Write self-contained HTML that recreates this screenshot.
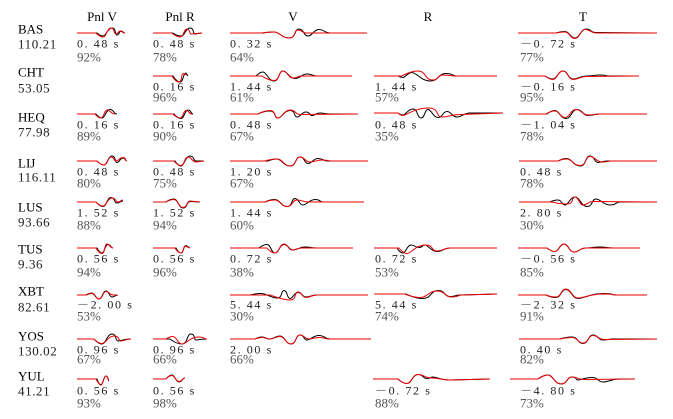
<!DOCTYPE html>
<html><head><meta charset="utf-8"><style>
html,body{margin:0;padding:0;background:#fff;}
svg{display:block;}
text{font-family:"Liberation Serif","Noto Serif CJK SC",serif;}
.h{font-size:13px;fill:#000;text-anchor:middle;}
.n{font-size:13px;fill:#000;}
.v{font-size:13px;fill:#222;letter-spacing:0.6px;}
.t{font-size:12px;fill:#222;letter-spacing:1.6px;}
.p{font-size:13px;fill:#555;letter-spacing:0px;}
path{fill:none;stroke-width:1;stroke-linejoin:round;}
.b{stroke:#000;}
.r{stroke:#ee0000;}
</style></head><body>
<svg width="673" height="419" viewBox="0 0 673 419" xmlns="http://www.w3.org/2000/svg">
<rect width="673" height="419" fill="#fff"/>
<text class="h" x="102" y="21">Pnl V</text>
<text class="h" x="180" y="21">Pnl R</text>
<text class="h" x="293" y="21">V</text>
<text class="h" x="428" y="21">R</text>
<text class="h" x="583" y="21">T</text>
<text class="n" x="18" y="33.5">BAS</text><text class="v" x="18" y="48.5">110.21</text>
<text class="n" x="18" y="76.5">CHT</text><text class="v" x="18" y="92.5">53.05</text>
<text class="n" x="18" y="121.5">HEQ</text><text class="v" x="18" y="136.5">77.98</text>
<text class="n" x="18" y="167.5">LIJ</text><text class="v" x="18" y="181.5">116.11</text>
<text class="n" x="18" y="211.5">LUS</text><text class="v" x="18" y="226.5">93.66</text>
<text class="n" x="18" y="253.5">TUS</text><text class="v" x="18" y="268.5">9.36</text>
<text class="n" x="18" y="295.5">XBT</text><text class="v" x="18" y="311.5">82.61</text>
<text class="n" x="18" y="340.5">YOS</text><text class="v" x="18" y="355.5">130.02</text>
<text class="n" x="18" y="380.5">YUL</text><text class="v" x="18" y="395.5">41.21</text>

<!-- BAS -->
<path class="b" d="M77 33 L97 33 S100 36 103 36 S107.5 28 112 28 S114.5 35 117 35 S119 31 121 31 S123 33 125 33"/>
<path class="r" d="M77 33 L96 33 S99.5 37 103 37 S107 28 111 28 S113.5 34 116 34 S118 31 120 31 S122.5 33 125 33"/>
<path class="b" d="M153 33 L173 33 S177 36 181 36 S185.5 28 190 28 S192.5 34 195 34 L202 33"/>
<path class="r" d="M153 33 L172 33 S176 37 180 37 S183.5 29 187 29 S189 34 191 34 L202 33"/>
<path class="b" d="M230 33 L262 33 S268 32 274 32 S281.5 38 289 38 S294 29 299 29 S303.5 36 308 36 S313.5 29.5 319 29.5 S324.5 33 330 33 L367 33"/>
<path class="r" d="M230 33 L262 33 S268 32 274 32 S281.5 38 289 38 S293.5 30 298 30 S302 33 306 33 L367 33"/>
<path class="b" d="M518 33 L556 33 S560.5 31.5 565 31.5 S570 38 575 38 S580.5 29 586 29 S590.5 32.5 595 32.5 L657 33"/>
<path class="r" d="M518 33 L556 33 S560.5 32 565 32 S570 38.5 575 38.5 S580 29.5 585 29.5 S591 33 597 33 L657 33"/>
<text class="t" x="77" y="47.5">0. 48 s</text><text class="p" x="77" y="61.5">92%</text>
<text class="t" x="153" y="47.5">0. 48 s</text><text class="p" x="153" y="61.5">78%</text>
<text class="t" x="230" y="47.5">0. 32 s</text><text class="p" x="230" y="61.5">64%</text>
<text class="t" x="520" y="47.5">－0. 72 s</text><text class="p" x="520" y="61.5">77%</text>

<!-- CHT -->
<path class="b" d="M153 76 L173 76 S176.5 82 180 82 S183 73 186 73 L188 76"/>
<path class="r" d="M153 76 L172 76 S175.5 82 179 82 S181 73.5 183 73.5 L187 75"/>
<path class="b" d="M230 76 L256 76 S259.5 72 263 72 S268.5 81 274 81 S278.5 71 283 71 S289 78.5 295 78.5 S301 74 307 74 S312 76 317 76 L352 76"/>
<path class="r" d="M230 76 L262 76 S268 80.5 274 80.5 S278.5 71 283 71 S288 78 293 78 S297 76 301 76 L352 76"/>
<path class="b" d="M374 76 L398 76 S400.5 77.5 403 77.5 S407.5 72.5 412 72.5 S421 81 430 81 S438 73.5 446 73.5 S451.5 76 457 76 L497 76"/>
<path class="r" d="M374 76 L402 76 S410 71 418 71 S425 80 432 80 S437.5 75 443 75 S450 76 457 76 L497 76"/>
<path class="b" d="M518 76 L545 76 S549 79 553 79 S558 71 563 71 S568 79 573 79 S580 76 587 76 S593.5 75 600 75 S605 76 610 76 L639 76"/>
<path class="r" d="M518 76 L545 76 S549 79.5 553 79.5 S558 71 563 71 S568 79.5 573 79.5 S580 76.5 587 76.5 L639 76"/>
<text class="t" x="153" y="90.5">0. 16 s</text><text class="p" x="153" y="101.5">96%</text>
<text class="t" x="230" y="90.5">1. 44 s</text><text class="p" x="230" y="101.5">61%</text>
<text class="t" x="375" y="90.5">1. 44 s</text><text class="p" x="375" y="101.5">57%</text>
<text class="t" x="520" y="90.5">－0. 16 s</text><text class="p" x="520" y="101.5">95%</text>

<!-- HEQ -->
<path class="b" d="M77 114 L96 114 S99 118 102 118 S106 109.5 110 109.5 S113.5 114 117 114"/>
<path class="r" d="M77 114 L95 114 S98 118 101 118 S104 110 107 110 S111 114 115 114"/>
<path class="b" d="M153 114 L174 114 S177.5 118.5 181 118.5 S184.5 110 188 110 S190.5 114 193 114"/>
<path class="r" d="M153 114 L173 114 S176.5 118 180 118 S183 110.5 186 110.5 S189 114 192 114"/>
<path class="b" d="M230 114 L258 114 S264 111 270 111 S274 118 278 118 S284 110.5 290 110.5 S293.5 117 297 117 S301.5 112 306 112 S309 115.5 312 115.5 S316 113 320 113 S325 114 330 114 L358 114"/>
<path class="r" d="M230 114 L258 114 S264 110.5 270 110.5 S274 118 278 118 S284 110 290 110 S295 114.5 300 114.5 L358 114"/>
<path class="b" d="M374 113 L398 113 S400.5 115 403 115 S408 109 413 109 S417 118 421 118 S424.5 109.5 428 109.5 S433 117.5 438 117.5 S442.5 111.5 447 111.5 S452 117 457 117 S463.5 113 470 113 L503 113"/>
<path class="r" d="M374 113 L398 113 S400.5 115.5 403 115.5 S415.5 108 428 108 S435 117 442 117 S451 114.5 460 114.5 L503 113"/>
<path class="b" d="M518 114 L547 114 S551 110.5 555 110.5 S560.5 118.5 566 118.5 S571.5 109.5 577 109.5 S582.5 115.5 588 115.5 S594 114 600 114 L647 114"/>
<path class="r" d="M518 114 L546 114 S550.5 111 555 111 S560 117.5 565 117.5 S570.5 109.5 576 109.5 S582 115 588 115 S594 114 600 114 L647 114"/>
<text class="t" x="77" y="128.5">0. 16 s</text><text class="p" x="77" y="140.5">89%</text>
<text class="t" x="153" y="128.5">0. 16 s</text><text class="p" x="153" y="140.5">90%</text>
<text class="t" x="230" y="128.5">0. 48 s</text><text class="p" x="230" y="140.5">67%</text>
<text class="t" x="375" y="128.5">0. 48 s</text><text class="p" x="375" y="140.5">35%</text>
<text class="t" x="520" y="128.5">－1. 04 s</text><text class="p" x="520" y="140.5">78%</text>

<!-- LIJ -->
<path class="b" d="M77 161 L97 161 S100.5 165 104 165 S108 156 112 156 S114.5 162.5 117 162.5 S120 158 123 158 S125 161 127 161"/>
<path class="r" d="M77 161 L97 161 S100.5 165 104 165 S107.5 157 111 157 S113.5 161 116 161 S119.5 157.5 123 157.5 S125 161 127 161"/>
<path class="b" d="M153 161 L175 161 S178 166 181 166 S185.5 156 190 156 S193 161 196 161 L204 161"/>
<path class="r" d="M153 161 L174 161 S177.5 165.5 181 165.5 S184.5 157 188 157 S192 162 196 162 L204 161"/>
<path class="b" d="M230 161 L268 161 S272.5 159 277 159 S283.5 166 290 166 S295 157 300 157 S304 163.5 308 163.5 S313 158.5 318 158.5 S323 161 328 161 L368 161"/>
<path class="r" d="M230 161 L265 161 S271 159 277 159 S283.5 166 290 166 S295 157 300 157 S305 162 310 162 S316 160 322 160 S327 161 332 161 L368 161"/>
<path class="b" d="M519 161 L558 161 S562.5 158.5 567 158.5 S573.5 166 580 166 S585 156 590 156 S594 162.5 598 162.5 S602.5 161 607 161 L657 161"/>
<path class="r" d="M519 161 L558 161 S562.5 159 567 159 S573.5 165.5 580 165.5 S585 156.5 590 156.5 S596 162 602 162 S607 161 612 161 L657 161"/>
<text class="t" x="77" y="175.5">0. 48 s</text><text class="p" x="77" y="187.5">80%</text>
<text class="t" x="153" y="175.5">0. 48 s</text><text class="p" x="153" y="187.5">75%</text>
<text class="t" x="230" y="175.5">1. 20 s</text><text class="p" x="230" y="187.5">67%</text>
<text class="t" x="520" y="175.5">0. 48 s</text><text class="p" x="520" y="187.5">78%</text>

<!-- LUS -->
<path class="b" d="M77 202 L96 202 S99.5 206.5 103 206.5 S107 197.5 111 197.5 S114 203 117 203 S120 201 123 201"/>
<path class="r" d="M77 202 L96 202 S99.5 206 103 206 S107.5 198 112 198 S115 202 118 202 S120.5 200 123 200"/>
<path class="b" d="M153 202 L166 202 S170 199 174 199 S178.5 208 183 208 S186.5 201.5 190 201.5 L200 202"/>
<path class="r" d="M153 202 L166 202 S170 199.5 174 199.5 S178.5 207.5 183 207.5 S186.5 201 190 201 L200 202"/>
<path class="b" d="M230 202 L265 202 S270 199.5 275 199.5 S281 206.5 287 206.5 S291 198.5 295 198.5 S299 205 303 205 S309 199.5 315 199.5 S319 202 323 202 L364 202"/>
<path class="r" d="M230 202 L265 202 S270 200 275 200 S281 206.5 287 206.5 S292 200 297 200 S303 202 309 202 L364 202"/>
<path class="b" d="M519 202 L550 202 S554 200 558 200 S561.5 205 565 205 S570 197 575 197 S581 206.5 587 206.5 S591.5 199 596 199 S603 205 610 205 S615 202 620 202 L657 202"/>
<path class="r" d="M519 202 L552 202 S559.5 204 567 204 S571 197 575 197 S579 205 583 205 S588 201.5 593 201.5 L657 202"/>
<text class="t" x="77" y="216.5">1. 52 s</text><text class="p" x="77" y="229.5">88%</text>
<text class="t" x="153" y="216.5">1. 52 s</text><text class="p" x="153" y="229.5">94%</text>
<text class="t" x="230" y="216.5">1. 44 s</text><text class="p" x="230" y="229.5">60%</text>
<text class="t" x="520" y="216.5">2. 80 s</text><text class="p" x="520" y="229.5">30%</text>

<!-- TUS -->
<path class="b" d="M77 248 L97 248 S99.5 253 102 253 S105 244.5 108 244.5 S110.5 248 113 248"/>
<path class="r" d="M77 248 L96 248 S99 253.5 102 253.5 S104.5 244 107 244 S110 248 113 248"/>
<path class="b" d="M153 248 L176 248 S178.5 253 181 253 S183.5 245.5 186 245.5 L190 248"/>
<path class="r" d="M153 248 L175 248 S178 253 181 253 S183 246 185 246 L190 248"/>
<path class="b" d="M230 248 L259 248 S263 244.5 267 244.5 S271 253 275 253 S279.5 244.5 284 244.5 S288.5 250 293 250 S299 247 305 247 S311 248 317 248 L353 248"/>
<path class="r" d="M230 248 L267 248 S271 253 275 253 S279.5 244 284 244 S288 250 292 250 S297 248 302 248 L353 248"/>
<path class="b" d="M374 248 L397 248 S400 253 403 253 S407 245 411 245 S415 247.5 419 247.5 S422 245 425 245 S431 251.5 437 251.5 S443.5 248 450 248 L497 248"/>
<path class="r" d="M374 248 L399 248 S403 253.5 407 253.5 S416 245 425 245 S431 251 437 251 S443.5 248 450 248 L497 248"/>
<path class="b" d="M518 248 L547 248 S551 251.5 555 251.5 S559.5 244 564 244 S569 252 574 252 S580 248 586 248 S593 247 600 247 S607 248 614 248 L640 248"/>
<path class="r" d="M518 248 L547 248 S551 251.5 555 251.5 S559.5 244 564 244 S569 252 574 252 S580 248 586 248 L640 248"/>
<text class="t" x="77" y="262.5">0. 56 s</text><text class="p" x="77" y="276.5">94%</text>
<text class="t" x="153" y="262.5">0. 56 s</text><text class="p" x="153" y="276.5">96%</text>
<text class="t" x="230" y="262.5">0. 72 s</text><text class="p" x="230" y="276.5">38%</text>
<text class="t" x="375" y="262.5">0. 72 s</text><text class="p" x="375" y="276.5">53%</text>
<text class="t" x="520" y="262.5">－0. 56 s</text><text class="p" x="520" y="276.5">85%</text>

<!-- XBT -->
<path class="b" d="M77 295 L86 295 S89 293.5 92 293.5 S95.5 299 99 299 S102.5 291 106 291 S109 297 112 297 S115 295 118 295"/>
<path class="r" d="M77 295 L86 295 S89 293 92 293 S95.5 299 99 299 S102.5 291.5 106 291.5 S109.5 295 113 295 L118 295"/>
<path class="b" d="M230 295 L250 295 S255.5 293.5 261 293.5 S271 298 277 298 S280.5 290.5 284 290.5 S287 298.5 290 298.5 S294 292.5 298 292.5 S302 297 306 297 S311.5 295 317 295 L368 295"/>
<path class="r" d="M230 295 L270 295 S283 300 290 300 S294 292 298 292 S302 297.5 306 297.5 S311.5 295 317 295 L368 295"/>
<path class="b" d="M374 294 L406 294 S414.5 298.5 423 298.5 S430.5 290.5 438 290.5 S444 296.5 450 296.5 S455 295 460 295 L497 294"/>
<path class="r" d="M374 294 L405 294 S412.5 297.5 420 297.5 S428.5 291 437 291 S444.5 297 452 297 S457 295 462 295 L497 294"/>
<path class="b" d="M518 295 L546 295 S551 297.5 556 297.5 S561 289.5 566 289.5 S572 298.5 578 298.5 S590.5 293.5 603 293.5 S610 295 617 295 L647 295"/>
<path class="r" d="M518 295 L546 295 S551 297 556 297 S561 289 566 289 S572 298 578 298 S590.5 294 603 294 S610 295 617 295 L647 295"/>
<text class="t" x="77" y="308.5">－2. 00 s</text><text class="p" x="77" y="320.5">53%</text>
<text class="t" x="230" y="308.5">5. 44 s</text><text class="p" x="230" y="320.5">30%</text>
<text class="t" x="375" y="308.5">5. 44 s</text><text class="p" x="375" y="320.5">74%</text>
<text class="t" x="520" y="308.5">－2. 32 s</text><text class="p" x="520" y="320.5">91%</text>

<!-- YOS -->
<path class="b" d="M77 339 L94 339 S98 344 102 344 S107 334 112 334 S115 341 118 341 S124.5 339 131 339"/>
<path class="r" d="M77 339 L94 339 S98 343.5 102 343.5 S108 336 114 336 S118 341 121 341 S126 339 131 339"/>
<path class="b" d="M153 339 L170 339 S176 344 182 344 S186.5 334 191 334 S193.5 340 196 340 S201.5 339 207 339"/>
<path class="r" d="M153 339 L166 339 S169.5 336.5 173 336.5 S177.5 344 182 344 S190 337 198 337 S202.5 339 207 339"/>
<path class="b" d="M230 339 L255 339 S258.5 337 262 337 S266 339 270 339 S275 336 280 336 S285.5 344 291 344 S295.5 335 300 335 S303.5 340 307 340 S313 335.5 319 335.5 S324.5 339 330 339 L371 339"/>
<path class="r" d="M230 339 L255 339 S258.5 337.5 262 337.5 S266 339 270 339 S275 336.5 280 336.5 S285.5 344 291 344 S295.5 335 300 335 S304.5 339 309 339 S314 337.5 319 337.5 S324.5 339 330 339 L371 339"/>
<path class="b" d="M519 339 L560 339 S566 337 572 337 S577.5 343.5 583 343.5 S588 335 593 335 S598 340 603 340 S608 339 613 339 L657 339"/>
<path class="r" d="M519 339 L560 339 S566 337.5 572 337.5 S577.5 343 583 343 S588 335.5 593 335.5 S598.5 339.5 604 339.5 L657 339"/>
<text class="t" x="77" y="353.5">0. 96 s</text><text class="p" x="77" y="363.5">67%</text>
<text class="t" x="153" y="353.5">0. 96 s</text><text class="p" x="153" y="363.5">66%</text>
<text class="t" x="230" y="353.5">2. 00 s</text><text class="p" x="230" y="363.5">66%</text>
<text class="t" x="520" y="353.5">0. 40 s</text><text class="p" x="520" y="363.5">82%</text>

<!-- YUL -->
<path class="b" d="M77 379 L97 379 S99 385 101 385 S103.5 376 106 376 S107.5 380 109 380"/>
<path class="r" d="M77 379 L96 379 S98.5 384.5 101 384.5 S103.5 376 106 376 S107.5 381 109 381"/>
<path class="b" d="M153 379 L166 379 S169 375 172 375 S175.5 382 179 382 S182 378 185 378"/>
<path class="r" d="M153 379 L166 379 S169 375.5 172 375.5 S175.5 381.5 179 381.5 S182 378 185 378"/>
<path class="b" d="M373 379 L398 379 S402.5 383.5 407 383.5 S412.5 374.5 418 374.5 S422.5 378.5 427 378.5 S430 377 433 377 S441.5 380 450 380 L490 379"/>
<path class="r" d="M373 379 L398 379 S402.5 383.5 407 383.5 S412.5 374.5 418 374.5 S425 378 432 378 S441 380 450 380 L490 379"/>
<path class="b" d="M510 379 L538 379 S543 375 548 375 S554.5 384 561 384 S566.5 377 572 377 S575 380 578 380 S585 377.5 592 377.5 S597.5 382 603 382 S611.5 379 620 379 L635 379"/>
<path class="r" d="M510 379 L538 379 S543 375 548 375 S554.5 384 561 384 S566.5 377 572 377 S578 379.5 584 379.5 L635 379"/>
<text class="t" x="77" y="394.5">0. 56 s</text><text class="p" x="77" y="407.5">93%</text>
<text class="t" x="153" y="394.5">0. 56 s</text><text class="p" x="153" y="407.5">98%</text>
<text class="t" x="375" y="394.5">－0. 72 s</text><text class="p" x="375" y="407.5">88%</text>
<text class="t" x="520" y="394.5">－4. 80 s</text><text class="p" x="520" y="407.5">73%</text>
</svg>
</body></html>
